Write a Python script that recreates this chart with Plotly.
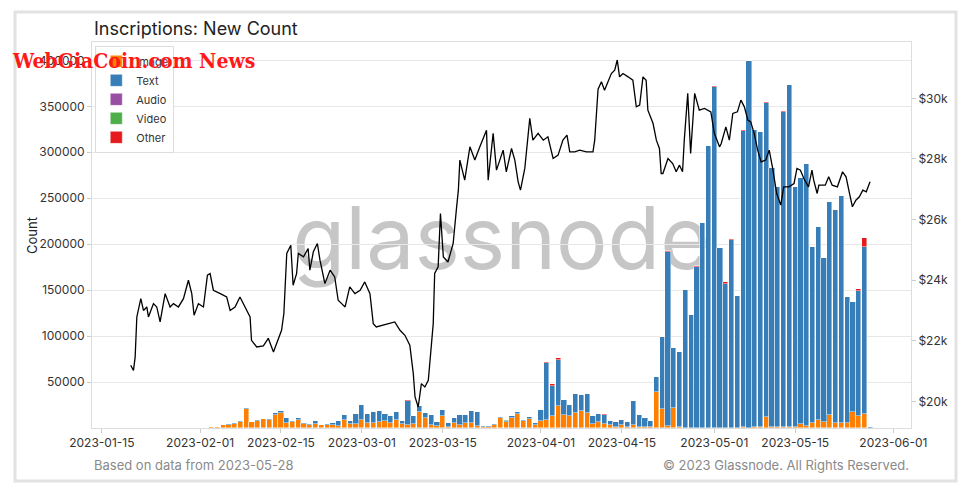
import pandas as pd
import plotly.graph_objects as go

# ---------------- data ----------------
bar_dates = list(pd.date_range("2023-02-01", "2023-05-28", freq="D"))

image_feb = [200, 300, 550, 1400, 2800, 3700, 4000, 6600, 20300, 6400, 7200, 9300, 8300, 14000,
             16000, 5800, 6200, 8300, 4000, 3600, 4400, 3300, 3600, 3600, 2500, 8700, 4000, 4700]
image_mar = [8700, 5500, 5400, 6900, 8000, 5800, 8700, 4000, 3600, 4400, 17400, 10900, 2900, 2200,
             13000, 1500, 5400, 2900, 5100, 5800, 2200, 1500, 1500, 3000, 11000, 6500, 10900, 15600,
             7300, 9400, 3600]
image_apr = [7400, 8300, 13200, 23400, 14300, 13600, 16500, 18700, 16000, 4200, 6200, 4700, 2900, 1500,
             3300, 1400, 3100, 1600, 1500, 1400, 38800, 20700, 1800, 21400, 600, 400, 300, 400, 500, 500]
image_may = [300, 300, 300, 300, 300, 600, 500, 700, 800, 12300, 700, 1000, 700, 1000, 700, 4000, 1800,
             5100, 8700, 6200, 14100, 5100, 5400, 5400, 17400, 13000, 15600, 0]

text_feb = [0, 0, 50, 100, 200, 300, 1000, 1400, 1700, 600, 1800, 700, 1100, 2000, 2000, 5200, 1800,
            2700, 1500, 800, 2900, 300, 800, 1400, 4800, 5800, 4000, 10400]
text_mar = [16700, 9500, 12000, 12000, 7200, 7200, 9100, 4000, 26200, 9000, 6500, 5800, 10900, 4000,
            6200, 4300, 5500, 10900, 9000, 13100, 15600, 1000, 1000, 1000, 600, 1500, 1800, 1500, 1800,
            2200, 1500]
text_apr = [12600, 62700, 32000, 50800, 16000, 11400, 20000, 17000, 21400, 9200, 8700, 9900, 4400, 4800,
            5300, 4600, 26600, 12400, 9200, 6600, 16200, 78500, 190200, 65800, 82200, 149700, 123000,
            175200, 222200, 306200]
text_may = [370600, 195500, 156800, 204700, 143700, 323000, 398300, 323700, 320800, 341100, 282300,
            261000, 342700, 372200, 261300, 268000, 285200, 191900, 210000, 179100, 232100, 231700,
            247000, 137100, 119700, 136500, 181800, 1000]

audio_feb = [0] * 28
audio_mar = [0] * 31
audio_apr = [0] * 30
audio_may = [0] * 28

video_feb = [0] * 28
video_mar = [0, 0, 0, 0, 0, 0, 0, 0, 0, 0, 0, 0, 0, 0, 0, 0, 0, 0, 0, 0, 0, 0, 0, 0, 0, 300, 0, 0, 0, 0, 0]
video_apr = [0] * 30
video_may = [0] * 28

other_feb = [0, 0, 0, 0, 0, 0, 0, 0, 0, 0, 0, 0, 600, 0, 0, 0, 0, 0, 0, 0, 0, 0, 0, 0, 0, 0, 0, 500]
other_mar = [0, 0, 0, 0, 0, 0, 0, 0, 1000, 0, 0, 0, 0, 0, 0, 0, 0, 0, 0, 0, 0, 0, 0, 0, 0, 0, 0, 300,
             0, 0, 0]
other_apr = [0, 500, 2300, 1800, 0, 400, 0, 0, 0, 0, 500, 300, 0, 0, 400, 0, 0, 500, 0, 0, 0, 0, 500,
             0, 0, 0, 0, 1200, 0, 0]
other_may = [1200, 0, 2300, 1000, 0, 800, 0, 0, 0, 900, 0, 0, 1000, 0, 0, 0, 0, 0, 0, 0, 0, 0, 0, 0,
             0, 1500, 9000, 0]

image_counts = image_feb + image_mar + image_apr + image_may
text_counts = text_feb + text_mar + text_apr + text_may
audio_counts = audio_feb + audio_mar + audio_apr + audio_may
video_counts = video_feb + video_mar + video_apr + video_may
other_counts = other_feb + other_mar + other_apr + other_may

# BTC price line: time in days after 2023-01-15, price in USD
price_epoch = "2023-01-15"
price_day = [4.99, 5.47, 5.76, 6.05, 6.74, 7.2, 7.78, 8.06, 8.93, 9.5, 10.08, 10.95, 11.81, 12.39, 13.25,
             14.12, 14.98, 15.56, 15.96, 16.71, 17.58, 18.27, 18.73, 19.3, 20.5, 21.6, 22.2, 23.05, 23.9,
             24.8, 25.65, 25.9, 26.8, 27.95, 28.8, 29.7, 30.5, 31.1, 31.5, 32.0, 32.7, 33.1, 33.7, 34.0,
             34.9, 35.7, 36.0, 36.6, 37.3, 37.75, 38.6, 39.5, 40.3, 40.9, 41.5, 42.1, 42.9, 43.8, 44.7,
             45.5, 46.4, 46.97, 47.5, 48.7, 49.9, 50.7, 51.6, 52.45, 53.3, 53.9, 54.2, 54.75, 55.3, 55.9,
             56.5, 56.9, 57.35, 57.6, 58.2, 58.6, 59.1, 59.9, 60.8, 61.4, 61.7, 61.96, 62.8, 63.7, 64.55,
             65.42, 66.57, 66.86, 67.72, 68.3, 69.45, 70.0, 70.9, 71.47, 72.05, 72.45, 73.2, 74.06, 74.6,
             75.5, 76.4, 77.2, 78.1, 78.96, 79.8, 80.5, 80.98, 81.85, 82.7, 83.86, 85.0, 85.3, 85.88,
             86.46, 87.0, 87.6, 88.18, 88.76, 89.2, 89.6, 90.2, 91.07, 91.9, 92.5, 93.08, 93.65, 94.2,
             94.5, 95.4, 95.97, 96.5, 96.8, 97.1, 97.98, 98.8, 99.4, 99.97, 100.5, 100.8, 101.4, 101.9,
             102.6, 103.4, 104.3, 105.4, 106.0, 106.4, 106.9, 107.2, 108.0, 108.6, 109.2, 110.0, 110.6,
             111.2, 111.8, 112.3, 112.9, 113.5, 114.1, 114.9, 115.5, 116.1, 116.8, 117.5, 118.0, 118.9,
             119.8, 120.3, 120.9, 121.5, 122.3, 122.9, 123.2, 123.8, 124.1, 125.2, 125.8, 126.4, 127.3,
             128.2, 128.8, 129.4, 129.9, 130.5, 131.1, 131.7, 132.3, 132.95]
price_usd = [21190, 21020, 21460, 22785, 23390, 23000, 23115, 22785, 23225, 23115, 22620, 23555, 23115,
             23225, 23115, 23390, 23997, 23555, 22841, 23225, 23115, 24162, 24217, 23667, 23555, 23445,
             23000, 23115, 23445, 23115, 22785, 22015, 21794, 21830, 22080, 21630, 22015, 22345, 22897,
             24880, 25150, 23830, 24217, 24880, 24770, 25040, 24330, 24935, 25210, 24660, 23885, 24330,
             24107, 23337, 23225, 23115, 23776, 23555, 23667, 23941, 23555, 22565, 22455, 22510, 22565,
             22620, 22345, 22180, 21850, 20915, 20143, 19812, 20585, 20475, 20695, 21575, 22565, 24218,
             24437, 26200, 24767, 24600, 25210, 26420, 26970, 27962, 27300, 28400, 27962,
             28400, 28950, 27300, 28845, 27631, 28290, 27576, 28345, 27962, 27245, 26970, 27687, 29340,
             28620, 28845, 28620, 28730, 28015, 28125, 28620, 28785, 28235, 28235, 28290, 28235, 28235,
             28620, 30300, 30550, 30270, 30550, 30820, 30930, 31265, 30710, 30820, 30710, 30600, 29720,
             29775, 30710, 30600, 29610, 29170, 28620, 28345, 27520, 27520, 28015, 27850, 27575, 27795,
             27575, 28620, 30165, 28180, 30165, 29610, 29665, 29555, 28845, 28620, 28400, 28510, 29060,
             28620, 29500, 29555, 29940, 29720, 29280, 29225, 28845, 28290, 27905, 27962, 28290, 27687,
             26860, 26475, 27080, 27080, 27190, 27687, 27631, 27355, 27080, 27631, 27300, 26860, 27135,
             27135, 27410, 27135, 27080, 27576, 27410, 26860, 26420, 26640, 26750, 26970, 26915, 27245]

x_ticks = ["2023-01-15", "2023-02-01", "2023-02-15", "2023-03-01", "2023-03-15", "2023-04-01",
           "2023-04-15", "2023-05-01", "2023-05-15", "2023-06-01"]
count_ticks = [50000, 100000, 150000, 200000, 250000, 300000, 350000, 400000]
price_ticks = [20000, 22000, 24000, 26000, 28000, 30000]
price_tick_text = ["$20k", "$22k", "$24k", "$26k", "$28k", "$30k"]

series = [("Image", image_counts, "#ff7f00"),
          ("Text", text_counts, "#377eb8"),
          ("Audio", audio_counts, "#984ea3"),
          ("Video", video_counts, "#4daf4a"),
          ("Other", other_counts, "#e41a1c")]

# ---------------- figure ----------------
FONT = "Inter, Open Sans, sans-serif"
fig = go.Figure()
for name, vals, color in series:
    fig.add_trace(go.Bar(
        x=bar_dates, y=vals, name=name,
        marker=dict(color=color, line=dict(color="rgba(255,255,255,0.55)", width=0.8)),
        width=0.9 * 86400000,
    ))

price_x = pd.Timestamp(price_epoch) + pd.to_timedelta(price_day, unit="D")
fig.add_trace(go.Scatter(x=price_x, y=price_usd, mode="lines", yaxis="y2",
                         line=dict(color="black", width=1.3), showlegend=False))

W, H = 970, 492
L, R, T, B = 92, 59, 42, 64
pw, ph = W - L - R, H - T - B


def px_x(p):
    return (p - L) / pw


def px_y(p):
    return (H - B - p) / ph


fig.update_layout(
    width=W, height=H,
    margin=dict(l=L, r=R, t=T, b=B),
    template="none",
    paper_bgcolor="white", plot_bgcolor="white",
    barmode="stack", bargap=0,
    font=dict(family=FONT, size=12, color="#333"),
    showlegend=True,
    legend=dict(x=0.004, y=0.99, xanchor="left", yanchor="top", traceorder="normal",
                bgcolor="rgba(255,255,255,0.9)", bordercolor="#dddddd", borderwidth=1,
                font=dict(size=11, color="#333"), tracegroupgap=0, itemwidth=30),
    xaxis=dict(type="date", range=["2023-01-13 07:00", "2023-06-04 01:00"],
               tickvals=x_ticks, ticktext=x_ticks, ticks="outside", ticklen=4,
               tickcolor="#cccccc", showgrid=False, showline=True, mirror=True,
               linecolor="#dddddd", linewidth=1, zeroline=False,
               tickfont=dict(size=12, color="#333")),
    yaxis=dict(range=[0, 420000], tickvals=count_ticks, ticktext=[str(v) for v in count_ticks],
               ticks="outside", ticklen=4, tickcolor="#cccccc", showgrid=True,
               gridcolor="#e8e8e8", gridwidth=1, showline=True, mirror=True,
               linecolor="#dddddd", linewidth=1, zeroline=False,
               tickfont=dict(size=12, color="#333")),
    yaxis2=dict(overlaying="y", side="right", range=[19120, 31860], tickvals=price_ticks,
                ticktext=price_tick_text, ticks="outside", ticklen=4, tickcolor="#cccccc",
                showgrid=False, zeroline=False, showline=False,
                tickfont=dict(size=12, color="#333")),
    shapes=[
        dict(type="rect", xref="paper", yref="paper", x0=0.2, x1=0.8, y0=0.3, y1=0.7,
             line=dict(width=0), fillcolor="rgba(0,0,0,0)", layer="below",
             label=dict(text="glassnode", textposition="middle center",
                        font=dict(size=86, color="#c6c6c6", family=FONT))),
        dict(type="rect", xref="paper", yref="paper", x0=px_x(15), x1=px_x(956),
             y0=px_y(481), y1=px_y(12), line=dict(color="#e2e2e2", width=3),
             fillcolor="rgba(0,0,0,0)", layer="below"),
    ],
    annotations=[
        dict(text="Inscriptions: New Count", xref="paper", yref="paper", x=0, y=px_y(28),
             xanchor="left", yanchor="middle", showarrow=False,
             font=dict(size=18, color="#222", family=FONT)),
        dict(text="Count", xref="paper", yref="paper", x=px_x(32), y=px_y(236),
             xanchor="center", yanchor="middle", textangle=-90, showarrow=False,
             font=dict(size=13, color="#222", family=FONT)),
        dict(text="Based on data from 2023-05-28", xref="paper", yref="paper", x=0, y=px_y(465),
             xanchor="left", yanchor="middle", showarrow=False,
             font=dict(size=13, color="#8a8a8a", family=FONT)),
        dict(text="© 2023 Glassnode. All Rights Reserved.", xref="paper", yref="paper", x=1,
             y=px_y(465), xanchor="right", yanchor="middle", showarrow=False,
             font=dict(size=13, color="#8a8a8a", family=FONT)),
        dict(text="<b>WebGiaCoin.com News</b>", xref="paper", yref="paper", x=px_x(10),
             y=px_y(61), xanchor="left", yanchor="middle", showarrow=False,
             font=dict(size=21, color="#ff1a1a", family="DejaVu Serif Condensed, DejaVu Serif")),
    ],
)

fig.write_html("out.html")
